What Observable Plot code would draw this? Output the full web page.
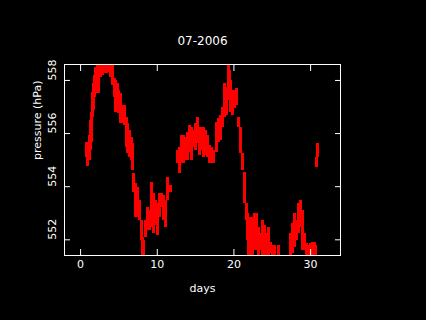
<!DOCTYPE html>
<html><head><meta charset="utf-8">
<script src="https://cdn.jsdelivr.net/npm/d3@7"></script>
<script src="https://cdn.jsdelivr.net/npm/@observablehq/plot@0.6"></script>
<style>html,body{margin:0;padding:0;background:#000;overflow:hidden}</style>
</head><body><div id="chart"></div>
<script>
const title = "07-2006";
const xLabel = "days";
const yLabel = "pressure (hPa)";
const xTicks = [0, 10, 20, 30];
const yTicks = [552, 554, 556, 558];

// day of month, and the low / high pressure seen around that time (hPa)
const day = [
  0.78,0.91,1.17,1.30,1.43,1.57,1.70,1.83,1.96,2.22,2.35,2.61,2.87,3.13,3.39,3.65,3.91,4.17,4.43,4.57,4.83,4.96,5.22,5.48,5.74,6.00,6.13,6.39,6.65,6.78,6.91,7.17,7.43,7.70,7.96,8.09,8.22,8.48,8.74,9.00,9.26,9.52,9.78,10.04,10.30,10.57,10.83,11.09,11.35,11.61,11.74,
  12.65,12.91,13.17,13.43,13.70,13.96,14.22,14.48,14.74,15.00,15.26,15.52,15.78,16.04,16.30,16.57,16.83,17.09,17.35,
  17.74,18.00,18.26,18.52,18.78,19.04,19.30,19.43,19.57,19.83,20.09,20.35,20.61,20.87,21.13,21.39,21.65,21.78,21.91,22.17,22.43,22.70,22.96,23.22,23.48,23.74,24.00,24.26,24.52,24.78,25.04,25.30,25.83,
  27.39,27.65,27.91,28.17,28.43,28.70,28.96,29.22,29.48,29.74,30.00,30.26,30.52,30.65,30.78,30.91
];
const low = [
  555.11,554.77,554.99,555.37,555.67,556.62,556.88,557.37,557.52,557.82,557.52,558.12,558.20,558.28,558.28,558.31,558.12,557.82,557.37,556.80,557.14,556.77,556.39,556.39,556.31,555.48,555.26,555.11,554.99,554.61,553.78,552.84,552.84,552.73,551.97,551.3,551.3,552.09,552.35,552.35,552.47,552.24,552.55,552.16,552.84,553.22,552.73,552.47,553.48,553.78,553.78,
  554.88,554.50,554.88,554.88,554.99,554.99,555.29,554.99,555.48,555.37,555.63,555.18,555.37,555.11,555.18,555.11,554.88,554.88,554.88,
  555.29,555.67,555.75,556.24,556.62,556.69,557.52,557.26,556.80,556.69,556.95,557.07,556.24,555.26,554.61,553.37,552.73,551.97,551.3,551.3,551.3,551.60,551.60,551.3,551.60,551.3,551.3,551.3,551.3,551.48,551.3,551.3,551.3,
  551.3,551.48,551.71,551.97,552.24,552.47,551.60,551.60,551.3,551.3,551.3,551.3,551.3,551.3,554.73,555.11
];
const high = [
  555.67,555.56,555.94,556.50,556.80,557.56,557.90,558.20,558.50,558.8,558.8,558.8,558.8,558.8,558.8,558.8,558.8,558.8,558.09,558.01,557.90,557.63,557.52,557.07,557.07,556.62,556.39,556.12,555.86,555.63,554.50,554.12,553.97,553.48,552.73,552.09,551.97,552.73,553.22,553.11,554.16,553.75,553.48,553.37,553.75,553.75,553.67,553.48,554.35,554.05,554.05,
  555.37,555.48,555.94,555.94,555.86,556.05,556.31,556.24,556.12,556.39,556.62,556.24,556.24,556.24,556.12,555.94,555.56,555.48,555.37,
  556.43,556.58,556.69,556.99,557.90,557.75,558.8,558.39,558.01,557.63,557.63,557.70,556.62,556.24,555.26,554.54,553.37,552.99,552.73,552.84,552.84,552.99,552.99,552.47,552.24,552.73,552.55,552.24,552.47,551.90,551.78,551.78,551.78,
  552.24,552.62,552.99,552.73,553.37,553.48,553.11,552.24,551.86,551.78,551.86,551.90,551.90,551.78,555.11,555.63
];

const rows = day.map((d, i) => ({day: d, lo: low[i], hi: high[i]}));

const chart = Plot.plot({
  width: 426, height: 320,
  marginLeft: 64, marginRight: 86, marginTop: 64, marginBottom: 65,
  style: {background: "#000", color: "#fff", fontFamily: "'DejaVu Sans', sans-serif", fontSize: "11px"},
  x: {domain: [-2.1, 33.9]},
  y: {domain: [551.41, 558.6]},
  marks: [
    Plot.ruleX(rows, {x: "day", y1: "lo", y2: "hi", stroke: "#ff0000", strokeWidth: 2.6, clip: true, shapeRendering: "crispEdges"}),
    Plot.frame({stroke: "#fff"}),
    Plot.axisX(xTicks, {anchor: "bottom", tickSize: -6, fill: "none", label: null, stroke: "#fff"}),
    Plot.axisX(xTicks, {anchor: "top", tickSize: -6, fill: "none", label: null, stroke: "#fff"}),
    Plot.axisY(yTicks, {anchor: "left", tickSize: -6, fill: "none", label: null, stroke: "#fff"}),
    Plot.axisY(yTicks, {anchor: "right", tickSize: -6, fill: "none", label: null, stroke: "#fff"}),
    Plot.text(xTicks, {x: d => d, frameAnchor: "bottom", dy: 12, text: d => String(d), fill: "#fff"}),
    Plot.text(yTicks, {y: d => d, frameAnchor: "left", dx: -12, rotate: -90, text: d => String(d), fill: "#fff"}),
    Plot.text([title], {frameAnchor: "top", dy: -28, text: d => d, fill: "#fff", fontSize: 12}),
    Plot.text([xLabel], {frameAnchor: "bottom", dy: 36, text: d => d, fill: "#fff"}),
    Plot.text([yLabel], {frameAnchor: "left", dx: -27, rotate: -90, text: d => d, fill: "#fff"})
  ]
});
document.getElementById("chart").appendChild(chart);
</script>
</body></html>
